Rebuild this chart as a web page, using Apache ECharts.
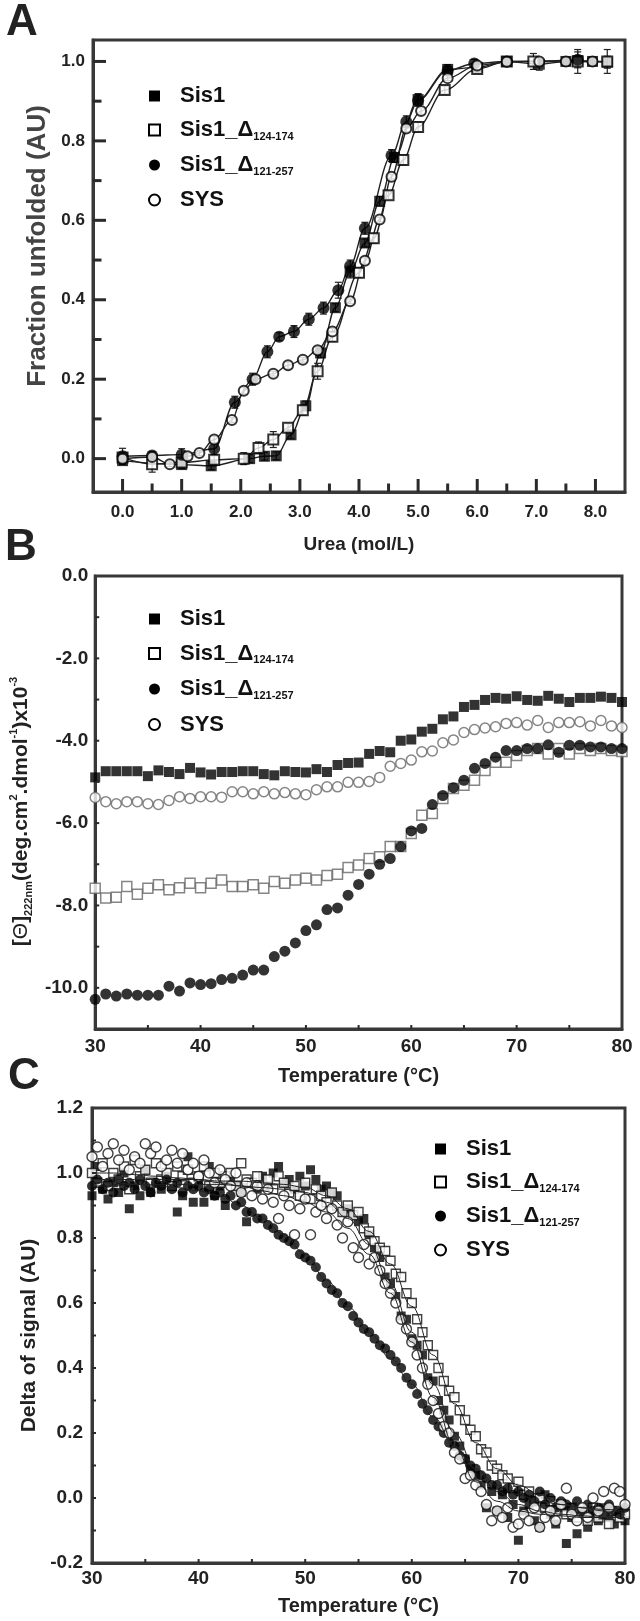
<!DOCTYPE html>
<html><head><meta charset="utf-8">
<script src="https://cdn.jsdelivr.net/npm/echarts@6/dist/echarts.min.js"></script>
<style>html,body{margin:0;padding:0;background:#fff}#c{width:640px;height:1621px}</style>
</head><body><div id="c"></div>
<script>
// ---------------- DATA ----------------
const seriesNames = ['Sis1', 'Sis1_Δ124-174', 'Sis1_Δ121-257', 'SYS'];

// Panel A: urea denaturation (fraction unfolded)
const ureaSis1 = [0, 1.0, 1.5, 2.15, 2.4, 2.6, 2.85, 3.1, 3.35, 3.6, 3.85, 4.1, 4.35, 4.6, 5.0, 5.5, 6.0, 6.5, 7.05, 7.5, 7.7, 7.95, 8.2];
const fracSis1 = [-0.005, -0.015, -0.018, 0.0, 0.006, 0.007, 0.06, 0.133, 0.266, 0.38, 0.47, 0.543, 0.648, 0.758, 0.904, 0.98, 0.985, 1.0, 0.993, 1.0, 1.002, 1.0, 0.998];
const errSis1 = [0.01, 0.01, 0.01, 0.01, 0.01, 0.01, 0.01, 0.012, 0.012, 0.01, 0.015, 0.01, 0.012, 0.012, 0.015, 0.012, 0.01, 0.012, 0.015, 0.01, 0.012, 0.01, 0.015];

const ureaD124 = [0, 0.5, 1.0, 1.55, 2.05, 2.3, 2.55, 2.8, 3.05, 3.3, 3.55, 4.0, 4.25, 4.5, 4.75, 5.0, 5.45, 6.0, 6.5, 6.95, 7.7, 8.2];
const fracD124 = [0.003, -0.014, -0.01, -0.003, 0.0, 0.027, 0.048, 0.078, 0.122, 0.22, 0.307, 0.468, 0.555, 0.663, 0.752, 0.835, 0.928, 0.981, 1.0, 1.0, 1.0, 1.0];
const errD124 = [0.01, 0.02, 0.01, 0.01, 0.015, 0.015, 0.02, 0.01, 0.012, 0.02, 0.012, 0.012, 0.012, 0.01, 0.012, 0.012, 0.01, 0.01, 0.01, 0.02, 0.03, 0.03];

const ureaD121 = [0, 0.5, 1.0, 1.55, 1.9, 2.2, 2.45, 2.65, 2.9, 3.15, 3.4, 3.65, 3.85, 4.1, 4.55, 4.8, 5.0, 5.5, 5.95, 6.5, 7.7];
const fracD121 = [0.006, 0.008, 0.01, 0.025, 0.142, 0.2, 0.269, 0.307, 0.32, 0.351, 0.379, 0.424, 0.485, 0.58, 0.763, 0.848, 0.902, 0.977, 0.995, 1.0, 1.004];
const errD121 = [0.02, 0.01, 0.015, 0.015, 0.015, 0.015, 0.015, 0.01, 0.015, 0.015, 0.015, 0.02, 0.015, 0.015, 0.015, 0.015, 0.015, 0.01, 0.01, 0.01, 0.02];

const ureaSYS = [0, 0.5, 0.8, 1.1, 1.3, 1.55, 1.85, 2.05, 2.25, 2.55, 2.8, 3.05, 3.3, 3.55, 3.85, 4.1, 4.35, 4.55, 4.8, 5.05, 5.5, 6.0, 6.5, 7.05, 7.5, 7.95];
const fracSYS = [0.0, 0.004, -0.014, 0.006, 0.014, 0.048, 0.097, 0.171, 0.2, 0.214, 0.235, 0.249, 0.273, 0.32, 0.396, 0.498, 0.602, 0.71, 0.831, 0.875, 0.958, 0.99, 0.999, 1.0, 1.0, 1.0];
const errSYS = [0.008, 0.006, 0.006, 0.008, 0.006, 0.008, 0.006, 0.008, 0.008, 0.006, 0.008, 0.006, 0.008, 0.008, 0.006, 0.008, 0.006, 0.006, 0.008, 0.008, 0.006, 0.006, 0.006, 0.006, 0.006, 0.006];

const ureaTickLabels = [0, 1, 2, 3, 4, 5, 6, 7, 8];
const ureaMinorTicks = [0.5, 1.5, 2.5, 3.5, 4.5, 5.5, 6.5, 7.5];
const fracTickLabels = [0, 0.2, 0.4, 0.6, 0.8, 1.0];
const fracMinorTicks = [0.1, 0.3, 0.5, 0.7, 0.9];

// Panel B: CD at 222 nm vs temperature
const tempB = [30,31,32,33,34,35,36,37,38,39,40,41,42,43,44,45,46,47,48,49,50,51,52,53,54,55,56,57,58,59,60,61,62,63,64,65,66,67,68,69,70,71,72,73,74,75,76,77,78,79,80];
const cdSis1 = [-4.89,-4.74,-4.74,-4.74,-4.74,-4.86,-4.72,-4.76,-4.81,-4.66,-4.77,-4.82,-4.76,-4.76,-4.74,-4.74,-4.81,-4.84,-4.74,-4.76,-4.77,-4.69,-4.76,-4.59,-4.54,-4.53,-4.32,-4.25,-4.28,-4.0,-3.97,-3.78,-3.71,-3.48,-3.41,-3.18,-3.13,-3.01,-2.96,-2.98,-2.92,-3.01,-3.03,-2.91,-2.98,-3.06,-2.96,-2.96,-2.93,-2.96,-3.06];
const cdD124 = [-7.58,-7.82,-7.8,-7.54,-7.73,-7.58,-7.5,-7.62,-7.57,-7.46,-7.57,-7.46,-7.38,-7.54,-7.54,-7.5,-7.58,-7.42,-7.46,-7.38,-7.34,-7.38,-7.27,-7.24,-7.08,-7.02,-6.86,-6.82,-6.57,-6.57,-6.25,-5.81,-5.77,-5.4,-5.16,-5.08,-4.96,-4.72,-4.52,-4.52,-4.36,-4.24,-4.19,-4.32,-4.19,-4.32,-4.19,-4.24,-4.19,-4.24,-4.26];
const cdD121 = [-10.28,-10.15,-10.2,-10.15,-10.18,-10.18,-10.18,-9.96,-10.08,-9.88,-9.92,-9.9,-9.8,-9.77,-9.69,-9.57,-9.57,-9.24,-9.11,-8.91,-8.61,-8.47,-8.1,-8.06,-7.75,-7.49,-7.24,-7.0,-6.86,-6.57,-6.19,-6.13,-5.55,-5.33,-5.14,-4.96,-4.67,-4.55,-4.4,-4.24,-4.24,-4.19,-4.19,-4.1,-4.28,-4.11,-4.11,-4.15,-4.15,-4.19,-4.19];
const cdSYS = [-5.38,-5.48,-5.53,-5.48,-5.48,-5.53,-5.55,-5.45,-5.36,-5.4,-5.36,-5.36,-5.37,-5.24,-5.24,-5.29,-5.24,-5.29,-5.26,-5.29,-5.31,-5.19,-5.12,-5.12,-5.01,-5.01,-4.99,-4.89,-4.62,-4.55,-4.47,-4.27,-4.25,-4.05,-3.98,-3.8,-3.73,-3.69,-3.66,-3.58,-3.56,-3.62,-3.51,-3.68,-3.56,-3.56,-3.54,-3.64,-3.51,-3.64,-3.68];
const tempTickLabels = [30, 40, 50, 60, 70, 80];
const tempMinorTicks = [35, 40, 45, 50, 55, 60, 65, 70, 75];
const cdTickLabels = [-10, -8, -6, -4, -2, 0];
const cdMinorTicks = [-10, -9, -8, -7, -6, -5, -4, -3, -2, -1];

// Panel C: delta of signal vs temperature
const tempC = [30,30.5,31,31.5,32,32.5,33,33.5,34,34.5,35,35.5,36,36.5,37,37.5,38,38.5,39,39.5,40,40.5,41,41.5,42,42.5,43,43.5,44,44.5,45,45.5,46,46.5,47,47.5,48,48.5,49,49.5,50,50.5,51,51.5,52,52.5,53,53.5,54,54.5,55,55.5,56,56.5,57,57.5,58,58.5,59,59.5,60,60.5,61,61.5,62,62.5,63,63.5,64,64.5,65,65.5,66,66.5,67,67.5,68,68.5,69,69.5,70,70.5,71,71.5,72,72.5,73,73.5,74,74.5,75,75.5,76,76.5,77,77.5,78,78.5,79,79.5,80];
const sigSis1 = [0.93,1.02,0.95,0.92,0.97,0.94,1.00,0.89,0.96,0.93,1.01,0.94,0.97,0.95,0.99,0.96,0.88,0.93,1.05,0.91,0.98,0.91,1.02,0.93,0.96,0.90,0.98,0.96,0.94,0.85,0.97,0.95,0.99,0.96,1.00,1.02,0.97,0.98,0.95,0.99,0.96,1.01,0.98,0.95,0.96,0.94,0.93,0.88,0.89,0.87,0.85,0.86,0.81,0.77,0.74,0.68,0.66,0.62,0.56,0.55,0.49,0.47,0.44,0.37,0.36,0.30,0.27,0.24,0.19,0.16,0.12,0.09,0.07,0.04,-0.03,0.02,-0.04,0.01,-0.06,-0.02,-0.13,-0.04,-0.02,-0.07,-0.09,0.01,-0.05,-0.08,-0.03,-0.14,-0.06,-0.11,-0.04,-0.09,-0.05,-0.07,-0.03,-0.06,-0.08,-0.04,-0.07];
const sigD124 = [1.00,0.97,1.03,0.96,1.00,0.98,1.02,0.95,1.04,0.99,1.01,0.97,1.03,0.98,1.00,0.96,1.02,0.99,1.01,0.97,0.99,1.02,0.96,1.00,0.97,0.99,1.00,0.96,1.03,0.98,0.97,0.99,0.96,0.98,0.95,0.99,0.97,0.94,0.96,0.93,0.97,0.92,0.95,0.93,0.91,0.94,0.90,0.88,0.90,0.87,0.88,0.83,0.82,0.79,0.77,0.76,0.73,0.69,0.68,0.63,0.60,0.55,0.51,0.47,0.44,0.40,0.36,0.33,0.31,0.27,0.24,0.21,0.19,0.15,0.14,0.10,0.09,0.07,0.06,0.03,0.05,0.01,0.02,-0.01,0.00,-0.03,-0.01,-0.04,-0.02,-0.05,-0.03,-0.06,-0.04,-0.07,-0.03,-0.06,-0.05,-0.08,-0.04,-0.06,-0.05];
const sigD121 = [0.96,0.98,0.95,0.97,0.94,0.98,0.96,0.97,0.95,0.98,0.96,0.94,0.97,0.96,0.98,0.95,0.97,0.94,0.96,0.95,0.96,0.94,0.95,0.93,0.94,0.92,0.93,0.90,0.91,0.88,0.88,0.86,0.86,0.84,0.83,0.81,0.80,0.79,0.78,0.75,0.74,0.73,0.71,0.68,0.66,0.64,0.63,0.60,0.59,0.56,0.54,0.52,0.51,0.49,0.47,0.46,0.44,0.42,0.40,0.37,0.35,0.32,0.29,0.27,0.24,0.22,0.20,0.17,0.16,0.13,0.12,0.10,0.09,0.07,0.06,0.04,0.04,0.02,0.03,0.01,0.02,0.00,0.01,-0.01,0.02,-0.02,0.00,-0.03,-0.01,-0.02,-0.03,-0.01,-0.04,-0.02,-0.04,-0.03,-0.05,-0.02,-0.04,-0.05,-0.03];
const sigSYS = [1.05,1.08,1.02,1.06,1.09,1.04,1.07,1.01,1.05,1.03,1.09,1.06,1.08,1.02,1.04,1.07,1.03,1.06,1.01,1.03,0.99,1.04,1.00,0.97,1.01,0.98,0.96,1.00,0.94,0.97,0.93,0.96,0.92,0.95,0.91,0.86,0.93,0.90,0.81,0.89,0.92,0.81,0.88,0.90,0.86,0.89,0.84,0.80,0.85,0.77,0.74,0.78,0.72,0.74,0.70,0.66,0.63,0.60,0.55,0.52,0.48,0.44,0.40,0.35,0.30,0.26,0.22,0.20,0.14,0.12,0.06,0.07,0.04,0.02,-0.02,-0.07,-0.04,-0.06,-0.03,-0.09,-0.08,-0.05,-0.07,-0.03,-0.09,-0.06,-0.04,-0.07,-0.02,0.03,-0.05,-0.07,-0.03,-0.06,0.00,-0.04,0.02,-0.03,0.03,0.02,-0.02];
const fitTemp = [30,32,34,36,38,40,42,44,46,48,50,52,54,56,58,60,62,64,66,68,70,72,74,76,78,80];
const fitSis1 = [0.96,0.96,0.965,0.965,0.965,0.965,0.965,0.96,0.955,0.95,0.94,0.91,0.86,0.78,0.66,0.51,0.35,0.20,0.09,0.02,-0.02,-0.04,-0.05,-0.055,-0.06,-0.06];
const fitD124 = [0.98,0.98,0.98,0.98,0.98,0.98,0.975,0.975,0.97,0.965,0.955,0.93,0.89,0.82,0.72,0.59,0.44,0.29,0.17,0.09,0.04,0.01,-0.02,-0.03,-0.04,-0.045];
const fitD121 = [0.97,0.97,0.965,0.96,0.955,0.945,0.93,0.90,0.86,0.81,0.75,0.67,0.59,0.51,0.43,0.35,0.25,0.16,0.09,0.04,0.01,-0.01,-0.02,-0.03,-0.035,-0.04];
const fitSYS = [1.00,1.00,0.995,0.99,0.985,0.98,0.97,0.96,0.945,0.93,0.91,0.88,0.83,0.75,0.63,0.48,0.31,0.16,0.05,-0.01,-0.04,-0.05,-0.055,-0.06,-0.06,-0.06];
const sigTickLabels = [-0.2, 0, 0.2, 0.4, 0.6, 0.8, 1.0, 1.2];
const sigMinorTicks = [-0.1, 0, 0.1, 0.2, 0.3, 0.4, 0.5, 0.6, 0.7, 0.8, 0.9, 1.0, 1.1];

// ---------------- CHART ----------------
const FONT = '"Liberation Sans", Arial, Helvetica, sans-serif';
const FRAME = '#383838';
const zip = (xs, ys) => xs.map((x, i) => [x, ys[i]]);
const zip3 = (xs, ys, es) => xs.map((x, i) => [x, ys[i], es[i]]);

function legendFmt(name) {
  const m = name.match(/^(Sis1_Δ)(.+)$/);
  return m ? '{a|' + m[1] + '}{s|' + m[2] + '}' : '{a|' + name + '}';
}
function makeLegend(left, top, gap, styles) {
  return {
    left: left, top: top, orient: 'vertical', itemWidth: 11, itemHeight: 11, itemGap: gap,
    selectedMode: false,
    data: seriesNames.map((n, i) => ({ name: n, icon: styles[i].icon, itemStyle: styles[i].itemStyle })),
    formatter: legendFmt,
    textStyle: {
      padding: [0, 0, 0, 15],
      rich: {
        a: { fontSize: 22, fontWeight: 'bold', fontFamily: FONT, color: '#111', lineHeight: 24 },
        s: { fontSize: 11, fontWeight: 'bold', fontFamily: FONT, color: '#111', lineHeight: 12, verticalAlign: 'bottom' }
      }
    }
  };
}
const legendStyles = [
  { icon: 'rect', itemStyle: { color: '#000', borderWidth: 0 } },
  { icon: 'rect', itemStyle: { color: '#fff', borderColor: '#000', borderWidth: 2 } },
  { icon: 'circle', itemStyle: { color: '#000', borderWidth: 0 } },
  { icon: 'circle', itemStyle: { color: '#fff', borderColor: '#000', borderWidth: 2 } }
];

function valAxis(grid, min, max, labels, labelOpt, nameOpt) {
  const ax = {
    gridIndex: grid, type: 'value', min: min, max: max,
    axisLine: { show: true, onZero: false, lineStyle: { color: FRAME, width: 3 } }, splitLine: { show: false },
    axisTick: { show: false },
    axisLabel: Object.assign({ customValues: labels, fontFamily: FONT, fontWeight: 'bold', color: '#222' }, labelOpt)
  };
  return Object.assign(ax, nameOpt || {});
}
const nameStyle = (size, color) => ({ fontSize: size, fontWeight: 'bold', fontFamily: FONT, color: color || '#222' });

const f1 = v => v.toFixed(1);
const f0 = v => String(v);

const option = {
  animation: false,
  grid: [
    { left: 93, top: 40, width: 532, height: 452, show: true, borderColor: FRAME, borderWidth: 3, backgroundColor: 'transparent' },
    { left: 89, top: 576, width: 533, height: 453, show: true, borderColor: FRAME, borderWidth: 3, backgroundColor: 'transparent' },
    { left: 92, top: 1108, width: 533, height: 455, show: true, borderColor: FRAME, borderWidth: 3, backgroundColor: 'transparent' }
  ],
  xAxis: [
    valAxis(0, -0.5, 8.5, ureaTickLabels, { formatter: f1, fontSize: 17, margin: 12 },
      { position: 'bottom', name: 'Urea (mol/L)', nameLocation: 'middle', nameGap: 43, nameTextStyle: nameStyle(19) }),
    valAxis(1, 30, 80, tempTickLabels, { formatter: f0, fontSize: 19, margin: 8 },
      { position: 'bottom', name: 'Temperature (°C)', nameLocation: 'middle', nameGap: 37, nameTextStyle: nameStyle(20) }),
    valAxis(2, 30, 80, tempTickLabels, { formatter: f0, fontSize: 19, margin: 6 },
      { position: 'bottom', name: 'Temperature (°C)', nameLocation: 'middle', nameGap: 33, nameTextStyle: nameStyle(20) })
  ],
  yAxis: [
    valAxis(0, -0.084, 1.054, fracTickLabels, { formatter: f1, fontSize: 17, margin: 8 },
      { position: 'left', name: 'Fraction unfolded (AU)', nameLocation: 'middle', nameGap: 35,
        nameTextStyle: Object.assign(nameStyle(26, '#444'), { padding: [0, 0, 0, 40] }) }),
    valAxis(1, -11, 0, cdTickLabels, { formatter: f1, fontSize: 19, margin: 7 },
      { position: 'left', name: '[{th|Θ}]{sub|222nm}(deg.cm{sup|2}.dmol{sup|-1})x10{sup|-3}', nameLocation: 'middle', nameGap: 46,
        nameTextStyle: Object.assign(nameStyle(21), { lineHeight: 26, padding: [0, 18, 0, 0],
          rich: {
            th: { fontSize: 21, fontWeight: 'normal', fontFamily: FONT, color: '#222', lineHeight: 26 },
            sub: { fontSize: 11, fontWeight: 'bold', fontFamily: FONT, color: '#222', lineHeight: 12, verticalAlign: 'bottom' },
            sup: { fontSize: 11, fontWeight: 'bold', fontFamily: FONT, color: '#222', lineHeight: 12, verticalAlign: 'top' }
          } }) }),
    valAxis(2, -0.2, 1.2, sigTickLabels, { formatter: f1, fontSize: 19, margin: 9 },
      { position: 'left', name: 'Delta of signal (AU)', nameLocation: 'middle', nameGap: 50, nameTextStyle: nameStyle(21) })
  ],
  legend: [
    makeLegend(143, 80, 12, legendStyles),
    makeLegend(143, 603, 12.5, legendStyles),
    makeLegend(429, 1133, 11, legendStyles)
  ],
  graphic: [
    { type: 'text', x: 6, y: 23, style: { text: 'A', font: 'bold 44px ' + FONT, fill: '#222', verticalAlign: 'middle' } },
    { type: 'text', x: 5, y: 548, style: { text: 'B', font: 'bold 44px ' + FONT, fill: '#222', verticalAlign: 'middle' } },
    { type: 'text', x: 8, y: 1077, style: { text: 'C', font: 'bold 44px ' + FONT, fill: '#222', verticalAlign: 'middle' } }
  ],
  series: []
};

// Inward tick marks, placed through the axes' own scales
function tickRender(params, api) {
  const p = api.coord([api.value(0), api.value(1)]);
  const len = api.value(2), w = api.value(3), vertical = api.value(4) === 1;
  return { type: 'line', shape: vertical ? { x1: p[0], y1: p[1], x2: p[0], y2: p[1] - len } : { x1: p[0], y1: p[1], x2: p[0] + len, y2: p[1] },
    style: { stroke: '#2a2a2a', lineWidth: w } };
}
function tickSeries(axisIdx, xMin, yMin, xTicks, yTicks, len, w) {
  const data = xTicks.map(v => [v, yMin, len, w, 1]).concat(yTicks.map(v => [xMin, v, len, w, 0]));
  return { type: 'custom', xAxisIndex: axisIdx, yAxisIndex: axisIdx, data: data, renderItem: tickRender,
    encode: { x: 0, y: 1 }, clip: false, silent: true, z: 5 };
}
option.series.push(tickSeries(0, -0.5, -0.084, ureaTickLabels, fracTickLabels, 13, 3));
option.series.push(tickSeries(0, -0.5, -0.084, ureaMinorTicks, fracMinorTicks, 8.5, 3));
option.series.push(tickSeries(1, 30, -11, tempMinorTicks, cdMinorTicks, 4, 2));
option.series.push(tickSeries(2, 30, -0.2, tempMinorTicks, sigMinorTicks, 4, 2));

// Panel A series
function errRender(params, api) {
  const x = api.value(0), y = api.value(1), e = api.value(2);
  const p1 = api.coord([x, y - e]), p2 = api.coord([x, y + e]);
  const w = 3.5, st = { stroke: '#222', lineWidth: 1.2 };
  return { type: 'group', children: [
    { type: 'line', shape: { x1: p1[0], y1: p1[1], x2: p2[0], y2: p2[1] }, style: st },
    { type: 'line', shape: { x1: p1[0] - w, y1: p1[1], x2: p1[0] + w, y2: p1[1] }, style: st },
    { type: 'line', shape: { x1: p2[0] - w, y1: p2[1], x2: p2[0] + w, y2: p2[1] }, style: st }
  ] };
}
const markA = [
  { symbol: 'rect', symbolSize: 11, itemStyle: { color: '#000' } },
  { symbol: 'rect', symbolSize: 10, itemStyle: { color: '#fff', borderColor: '#000', borderWidth: 2 } },
  { symbol: 'circle', symbolSize: 12, itemStyle: { color: '#000' } },
  { symbol: 'circle', symbolSize: 10, itemStyle: { color: '#fff', borderColor: '#000', borderWidth: 2 } }
];
const dataA = [
  [ureaSis1, fracSis1, errSis1], [ureaD124, fracD124, errD124], [ureaD121, fracD121, errD121], [ureaSYS, fracSYS, errSYS]
];
dataA.forEach((d, i) => {
  option.series.push({ type: 'line', name: seriesNames[i], xAxisIndex: 0, yAxisIndex: 0, data: zip(d[0], d[1]),
    smooth: 0.35, smoothMonotone: 'x', symbol: 'none', lineStyle: { color: '#222', width: 1.4 }, z: 1, silent: true });
  option.series.push({ type: 'custom', name: seriesNames[i], xAxisIndex: 0, yAxisIndex: 0, data: zip3(d[0], d[1], d[2]),
    renderItem: errRender, encode: { x: 0, y: 1 }, z: 2, silent: true });
});
dataA.forEach((d, i) => {
  option.series.push(Object.assign({ type: 'scatter', name: seriesNames[i], xAxisIndex: 0, yAxisIndex: 0, data: zip(d[0], d[1]), z: 3 }, markA[i]));
});

// Panel B series
const markB = [
  { symbol: 'rect', symbolSize: 10, itemStyle: { color: '#000' } },
  { symbol: 'rect', symbolSize: 10, itemStyle: { color: '#fff', borderColor: '#666', borderWidth: 1.5 } },
  { symbol: 'circle', symbolSize: 11, itemStyle: { color: '#000' } },
  { symbol: 'circle', symbolSize: 10, itemStyle: { color: '#fff', borderColor: '#666', borderWidth: 1.5 } }
];
[cdSis1, cdD124, cdD121, cdSYS].forEach((ys, i) => {
  option.series.push(Object.assign({ type: 'scatter', name: seriesNames[i], xAxisIndex: 1, yAxisIndex: 1, data: zip(tempB, ys), z: 3 }, markB[i]));
});

// Panel C series
const markC = [
  { symbol: 'rect', symbolSize: 9, itemStyle: { color: '#000' } },
  { symbol: 'rect', symbolSize: 9, itemStyle: { color: '#fff', borderColor: '#111', borderWidth: 1.4 } },
  { symbol: 'circle', symbolSize: 10, itemStyle: { color: '#000' } },
  { symbol: 'circle', symbolSize: 10, itemStyle: { color: '#fff', borderColor: '#111', borderWidth: 1.4 } }
];
[sigSis1, sigD124, sigD121, sigSYS].forEach((ys, i) => {
  option.series.push(Object.assign({ type: 'scatter', name: seriesNames[i], xAxisIndex: 2, yAxisIndex: 2, data: zip(tempC, ys), z: 3 }, markC[i]));
});
[fitSis1, fitD124, fitD121, fitSYS].forEach((ys, i) => {
  option.series.push({ type: 'line', name: seriesNames[i], xAxisIndex: 2, yAxisIndex: 2, data: zip(fitTemp, ys),
    smooth: 0.4, smoothMonotone: 'x', symbol: 'none', lineStyle: { color: '#222', width: 1 }, z: 4, silent: true });
});

const chart = echarts.init(document.getElementById('c'), null, { renderer: 'canvas' });
chart.setOption(option);
</script></body></html>
